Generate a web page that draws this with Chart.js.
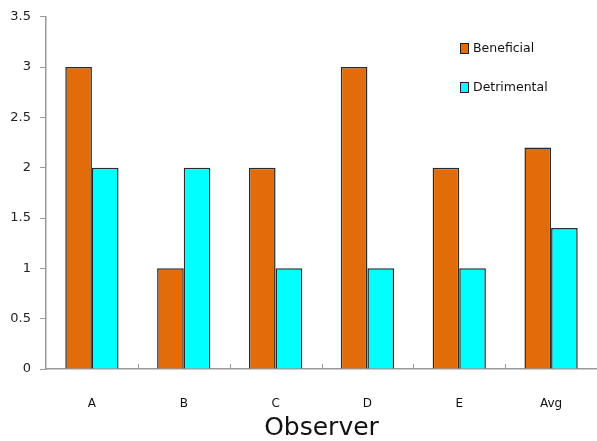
<!DOCTYPE html>
<html>
<head>
<meta charset="utf-8">
<script src="https://cdn.jsdelivr.net/npm/chart.js@4"></script>
<style>
  body { margin: 0; background: #fff; }
  canvas { display: block; }
</style>
</head>
<body>
<canvas id="chart" width="597" height="441"></canvas>
<script>
const observers = ['A', 'B', 'C', 'D', 'E', 'Avg'];
const beneficial = [3, 1, 2, 3, 2, 2.2];
const detrimental = [2, 2, 1, 1, 1, 1.4];
const yTicks = [0, 0.5, 1, 1.5, 2, 2.5, 3, 3.5];

const FONT = "'DejaVu Sans', Tahoma, sans-serif";
const AXIS = '#9a9a9a';

// legend drawn inside the plot at top right, like the original
const insideLegend = {
  id: 'insideLegend',
  afterDraw(chart) {
    const ctx = chart.ctx;
    ctx.save();
    ctx.font = `12.5px ${FONT}`;
    ctx.textBaseline = 'middle';
    chart.data.datasets.forEach((ds, i) => {
      const y = 49 + i * 39;
      ctx.fillStyle = ds.backgroundColor;
      ctx.fillRect(460, y - 6, 9, 11);
      ctx.strokeStyle = '#222';
      ctx.lineWidth = 1;
      ctx.strokeRect(460.5, y - 5.5, 8, 10);
      ctx.fillStyle = '#111';
      ctx.fillText(ds.label, 473, y);
    });
    ctx.restore();
  }
};

// small tick marks between categories, pointing up into the plot
const innerTicks = {
  id: 'innerTicks',
  afterDatasetsDraw(chart) {
    const x = chart.scales.x;
    const ctx = chart.ctx;
    ctx.save();
    ctx.strokeStyle = AXIS;
    ctx.lineWidth = 1;
    for (let i = 1; i < observers.length; i++) {
      const px = Math.round((x.getPixelForValue(i - 1) + x.getPixelForValue(i)) / 2) + 0.5;
      ctx.beginPath();
      ctx.moveTo(px, x.top);
      ctx.lineTo(px, x.top - 5);
      ctx.stroke();
    }
    ctx.restore();
  }
};

new Chart(document.getElementById('chart'), {
  type: 'bar',
  data: {
    labels: observers,
    datasets: [
      { label: 'Beneficial', data: beneficial, backgroundColor: '#e36c0a', borderColor: '#2a2a2a', borderWidth: 1.5 },
      { label: 'Detrimental', data: detrimental, backgroundColor: '#00ffff', borderColor: '#2a2a2a', borderWidth: 1.5 },
    ],
  },
  options: {
    responsive: false,
    animation: false,
    layout: { padding: { top: 15, right: 0, left: 0, bottom: 0 } },
    datasets: { bar: { categoryPercentage: 0.58, barPercentage: 1 } },
    plugins: { legend: { display: false }, tooltip: { enabled: false } },
    scales: {
      x: {
        grid: { display: false, drawTicks: false },
        border: { color: AXIS, width: 1.5 },
        ticks: { color: '#111', padding: 28, font: { family: FONT, size: 12 } },
        title: {
          display: true, text: 'Observer', color: '#111',
          font: { family: FONT, size: 25, lineHeight: 1 }, padding: 0,
        },
        afterFit(scale) { scale.height = 72; },
      },
      y: {
        min: 0, max: 3.5,
        afterBuildTicks(scale) { scale.ticks = yTicks.map(v => ({ value: v })); },
        grid: { drawOnChartArea: false, color: AXIS, tickLength: 6 },
        border: { color: AXIS, width: 1.5 },
        ticks: {
          color: '#222', padding: 9, font: { family: FONT, size: 13 },
          callback: v => String(v),
        },
        afterFit(scale) { scale.width = 46; },
      },
    },
  },
  plugins: [insideLegend, innerTicks],
});
</script>
</body>
</html>
